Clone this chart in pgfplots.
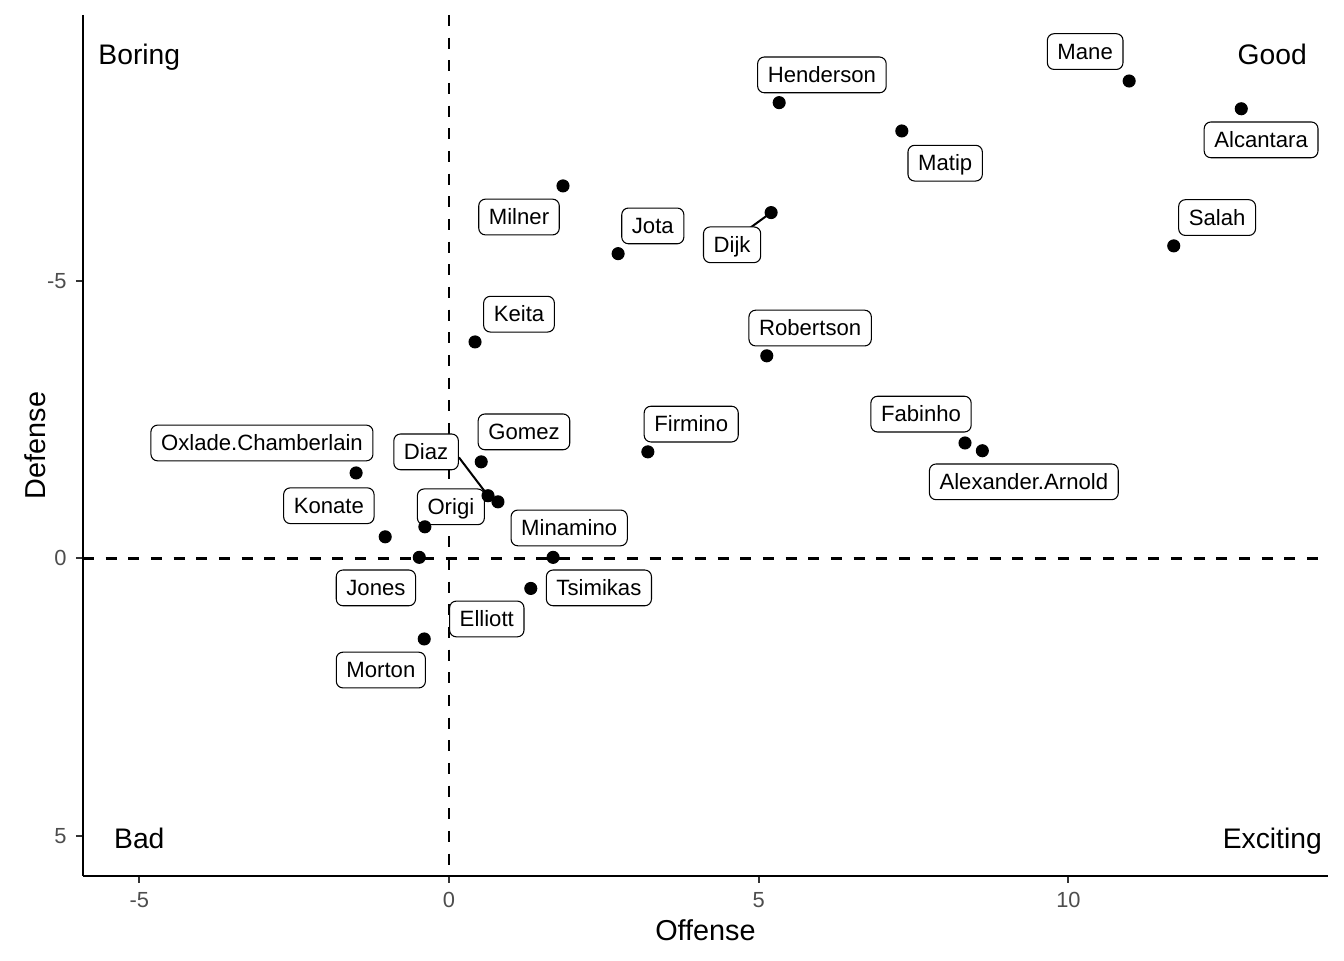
\documentclass[border=0pt]{standalone}
\usepackage{fontspec}
\setmainfont{Liberation Sans}
\usepackage{pgfplots}
\pgfplotsset{compat=1.18}
\usepackage{pgfplotstable}
\definecolor{tickgrey}{HTML}{4D4D4D}
\tikzset{
  lbl/.style={draw=black, line width=0.4pt, fill=white, rounded corners=2.5pt,
    font=\fontsize{8.3}{10}\selectfont, inner xsep=3.8pt, inner ysep=2.8pt,
    text height=6.8pt, text depth=1.0pt},
  quad/.style={font=\fontsize{10.6}{13}\selectfont, text height=7.6pt, text depth=2.2pt},
}
\pgfplotstableread{
x y
10.98 -8.60
12.79 -8.10
5.33 -8.21
7.31 -7.70
1.84 -6.71
5.20 -6.23
2.73 -5.49
11.70 -5.63
0.42 -3.90
5.13 -3.65
8.33 -2.08
8.61 -1.94
3.21 -1.92
0.52 -1.74
-1.50 -1.54
0.63 -1.13
0.79 -1.02
-0.39 -0.57
-1.03 -0.39
-0.48 -0.02
1.68 -0.02
1.32 0.54
-0.40 1.45
}\players
\begin{document}
\begin{tikzpicture}
\begin{axis}[
  scale only axis,
  width=466.9pt, height=322.9pt,
  xmin=-5.91, xmax=14.19,
  ymin=-9.79, ymax=5.72,
  y dir=reverse,
  axis x line*=bottom, axis y line*=left,
  axis line style={line width=0.75pt, black},
  tick align=outside,
  major tick length=2.6pt,
  tick style={line width=0.75pt, color=black!80},
  xtick={-5,0,5,10}, ytick={-5,0,5},
  /pgf/number format/assume math mode=true,
  ticklabel style={font=\fontsize{8.2}{10}\selectfont, text=tickgrey},
  xlabel={Offense}, ylabel={Defense},
  label style={font=\fontsize{10.8}{13}\selectfont},
  xlabel style={at={(axis description cs:0.5,-0.0627)}, anchor=center},
  ylabel style={at={(axis description cs:-0.0386,0.5)}, anchor=center},
  clip=false,
]
\addplot[black, line width=0.85pt, dash pattern=on 4.1pt off 4.4pt] coordinates {(0,-9.79) (0,5.72)};
\addplot[black, line width=0.85pt, dash pattern=on 4.1pt off 4.4pt] coordinates {(-5.91,0) (14.19,0)};
\addplot[black, line width=0.75pt] coordinates {(0.16,-1.82) (0.63,-1.13)};
\addplot[black, line width=0.75pt] coordinates {(4.83,-5.93) (5.20,-6.23)};
\addplot[only marks, mark=*, mark size=2.25pt, black] table {\players};
\node[lbl] at (axis cs:10.27,-9.13) {Mane};
\node[lbl] at (axis cs:6.02,-8.71) {Henderson};
\node[lbl] at (axis cs:13.11,-7.54) {Alcantara};
\node[lbl] at (axis cs:8.01,-7.12) {Matip};
\node[lbl] at (axis cs:1.13,-6.15) {Milner};
\node[lbl] at (axis cs:3.29,-5.99) {Jota};
\node[lbl] at (axis cs:4.57,-5.65) {Dijk};
\node[lbl] at (axis cs:12.40,-6.14) {Salah};
\node[lbl] at (axis cs:1.13,-4.40) {Keita};
\node[lbl] at (axis cs:5.83,-4.15) {Robertson};
\node[lbl] at (axis cs:7.62,-2.60) {Fabinho};
\node[lbl] at (axis cs:9.28,-1.38) {Alexander.Arnold};
\node[lbl] at (axis cs:3.91,-2.42) {Firmino};
\node[lbl] at (axis cs:1.21,-2.28) {Gomez};
\node[lbl] at (axis cs:-3.02,-2.08) {Oxlade.Chamberlain};
\node[lbl] at (axis cs:-0.37,-1.92) {Diaz};
\node[lbl] at (axis cs:-1.94,-0.95) {Konate};
\node[lbl] at (axis cs:0.03,-0.93) {Origi};
\node[lbl] at (axis cs:1.94,-0.55) {Minamino};
\node[lbl] at (axis cs:-1.18,0.53) {Jones};
\node[lbl] at (axis cs:2.42,0.53) {Tsimikas};
\node[lbl] at (axis cs:0.61,1.09) {Elliott};
\node[lbl] at (axis cs:-1.10,2.01) {Morton};
\node[quad] at (axis cs:-5,-9.02) {Boring};
\node[quad] at (axis cs:13.29,-9.02) {Good};
\node[quad] at (axis cs:-5,5.09) {Bad};
\node[quad] at (axis cs:13.29,5.09) {Exciting};
\end{axis}
\pgfresetboundingbox
\path ([shift={(-31.1pt,-31.5pt)}]current axis.south west) rectangle ([shift={(6pt,5.6pt)}]current axis.north east);
\end{tikzpicture}
\end{document}
